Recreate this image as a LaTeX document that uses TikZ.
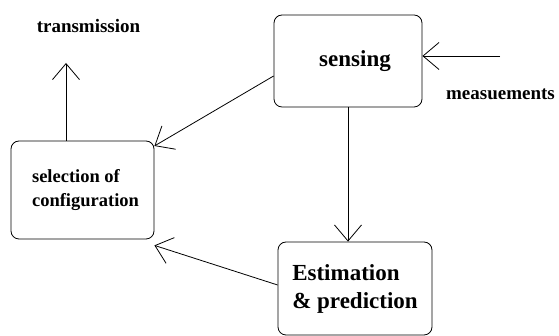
\documentclass[tikz,border=0pt]{standalone}
\usepackage{fontspec}
\setmainfont{Liberation Serif}
\usetikzlibrary{arrows.meta}
\begin{document}
\begin{tikzpicture}[x=1pt,y=1pt,
  box/.style={draw=black,line width=0.8pt,rounded corners=8pt,inner sep=0pt},
  arr/.style={draw=black,line width=0.8pt,-{Straight Barb[length=16pt,width=27pt,line width=0.8pt]}},
  lbl/.style={font=\bfseries\fontsize{19}{21}\selectfont,inner sep=0pt}]
\useasboundingbox (0,0) rectangle (559,336);
\node[box,minimum width=148pt,minimum height=92pt,font=\bfseries\fontsize{23}{26}\selectfont] (sens) at (348,275) {\hspace*{14pt}sensing};
\node[box,minimum width=154pt,minimum height=93pt,align=left,font=\bfseries\fontsize{23}{28}\selectfont] (estim) at (355,47.5) {Estimation\\\& prediction};
\node[box,minimum width=143pt,minimum height=98pt,align=left,font=\bfseries\fontsize{18.5}{24}\selectfont] (sel) at (82.5,146) {\hspace*{6pt}\raisebox{-4pt}{\begin{tabular}{@{}l@{}}selection of\\configuration\end{tabular}}};
\node[lbl] (trans) at (88.5,310) {transmission};
\node[lbl] (meas) at (500.5,242) {measuements};
\coordinate (mstart) at (500,280);
\coordinate (tr) at (66,273);
\draw[arr] (mstart) -- (mstart -| sens.east);
\draw[arr] ([yshift=-15pt]sens.west) -- ([yshift=44pt]sel.east);
\draw[arr] ([yshift=3.5pt]estim.west) -- ([yshift=-6pt]sel.south east);
\draw[arr] (sens.south) -- (sens.south |- estim.north);
\draw[arr] (tr |- sel.north) -- (tr);
\end{tikzpicture}
\end{document}
